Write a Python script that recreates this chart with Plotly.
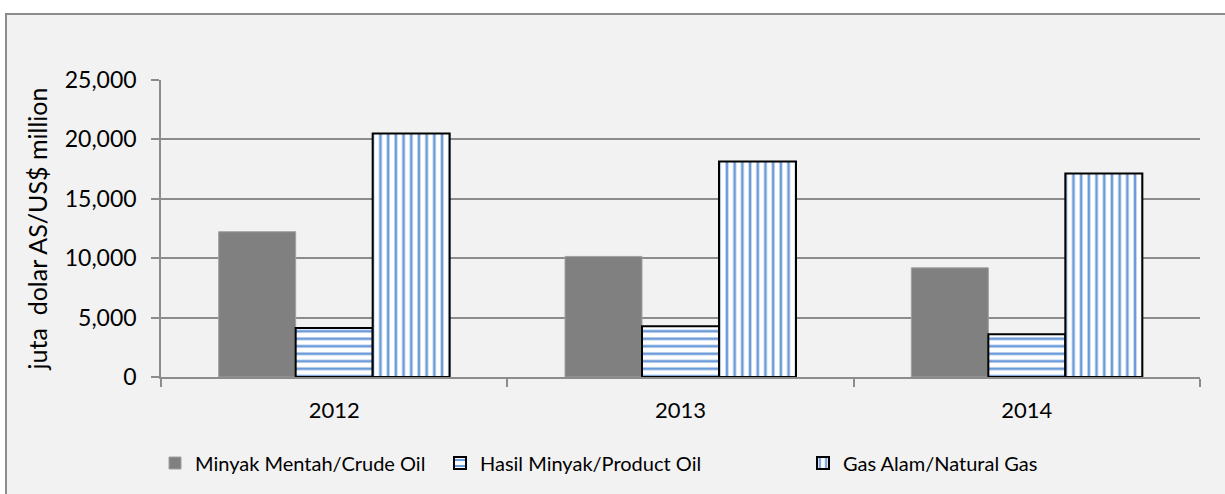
import plotly.graph_objects as go

# data
years = ['2012', '2013', '2014']
crude_oil = [12230, 10150, 9190]
product_oil = [4130, 4270, 3600]
natural_gas = [20490, 18130, 17140]

y_ticks = [0, 5000, 10000, 15000, 20000, 25000]

FONT = 'Lato'
BLUE = '#6b9bd8'
W, H = 1225, 494

fig = go.Figure()

fig.add_trace(go.Bar(
    x=years, y=crude_oil,
    name='Minyak Mentah/Crude Oil',
    legend='legend',
    marker=dict(color='#808080', line=dict(color='#a0a0a0', width=1))
))

fig.add_trace(go.Bar(
    x=years, y=product_oil,
    name='Hasil Minyak/Product Oil',
    legend='legend2',
    marker=dict(
        color='white',
        line=dict(color='black', width=2),
        pattern=dict(shape='-', fgcolor=BLUE, bgcolor='white', size=7.5, solidity=0.35, fillmode='replace')
    )
))

fig.add_trace(go.Bar(
    x=years, y=natural_gas,
    name='Gas Alam/Natural Gas',
    legend='legend3',
    marker=dict(
        color='white',
        line=dict(color='black', width=2),
        pattern=dict(shape='|', fgcolor=BLUE, bgcolor='white', size=7.7, solidity=0.35, fillmode='replace')
    )
))

# gray chart-area box (Excel style), extends past right/bottom edges
L, R, T, B = 161, 1200, 80, 377.5
pw, ph = R - L, B - T
fig.add_shape(
    type='rect', xref='paper', yref='paper', layer='below',
    x0=(6 - L) / pw, x1=(1240 - L) / pw,
    y0=(B - 510) / ph, y1=(B - 14) / ph,
    fillcolor='#f2f2f2', line=dict(color='#8c8c8c', width=2)
)


def legend_at(px):
    return dict(
        orientation='h',
        x=px / W, xref='container', xanchor='left',
        y=1 - 463 / H, yref='container', yanchor='middle',
        font=dict(family=FONT, size=20),
        itemwidth=30,
        bgcolor='rgba(0,0,0,0)'
    )


fig.update_layout(
    width=W, height=H,
    margin=dict(l=L, r=W - R, t=T, b=H - B),
    paper_bgcolor='white',
    plot_bgcolor='white',
    barmode='group',
    bargap=0.333,
    bargroupgap=0,
    font=dict(family=FONT, size=22, color='black'),
    showlegend=True,
    legend=legend_at(155),
    legend2=legend_at(440),
    legend3=legend_at(803),
    xaxis=dict(
        type='category',
        automargin=False,
        showline=True, linecolor='#8c8c8c', linewidth=1.5,
        ticks='outside', ticklen=8, tickcolor='#8c8c8c', tickwidth=1.5,
        tickson='boundaries',
        ticklabelstandoff=13,
        showgrid=False,
        tickfont=dict(family=FONT, size=22)
    ),
    yaxis=dict(
        range=[0, 25000],
        automargin=False,
        tickvals=y_ticks,
        tickformat=',',
        showline=True, linecolor='#8c8c8c', linewidth=1.5,
        ticks='outside', ticklen=8, tickcolor='#8c8c8c', tickwidth=1.5,
        showgrid=True, gridcolor='#8c8c8c', gridwidth=1.5,
        zeroline=False,
        ticklabelstandoff=10,
        tickfont=dict(family=FONT, size=23),
        title=dict(text='juta  dolar AS/US$ million', font=dict(family=FONT, size=25), standoff=10)
    )
)

# drop the default 8px body margin so the figure sits at the window origin
fig.write_html('out.html', config={'displayModeBar': False},
               post_script="document.body.style.margin='0px';")
